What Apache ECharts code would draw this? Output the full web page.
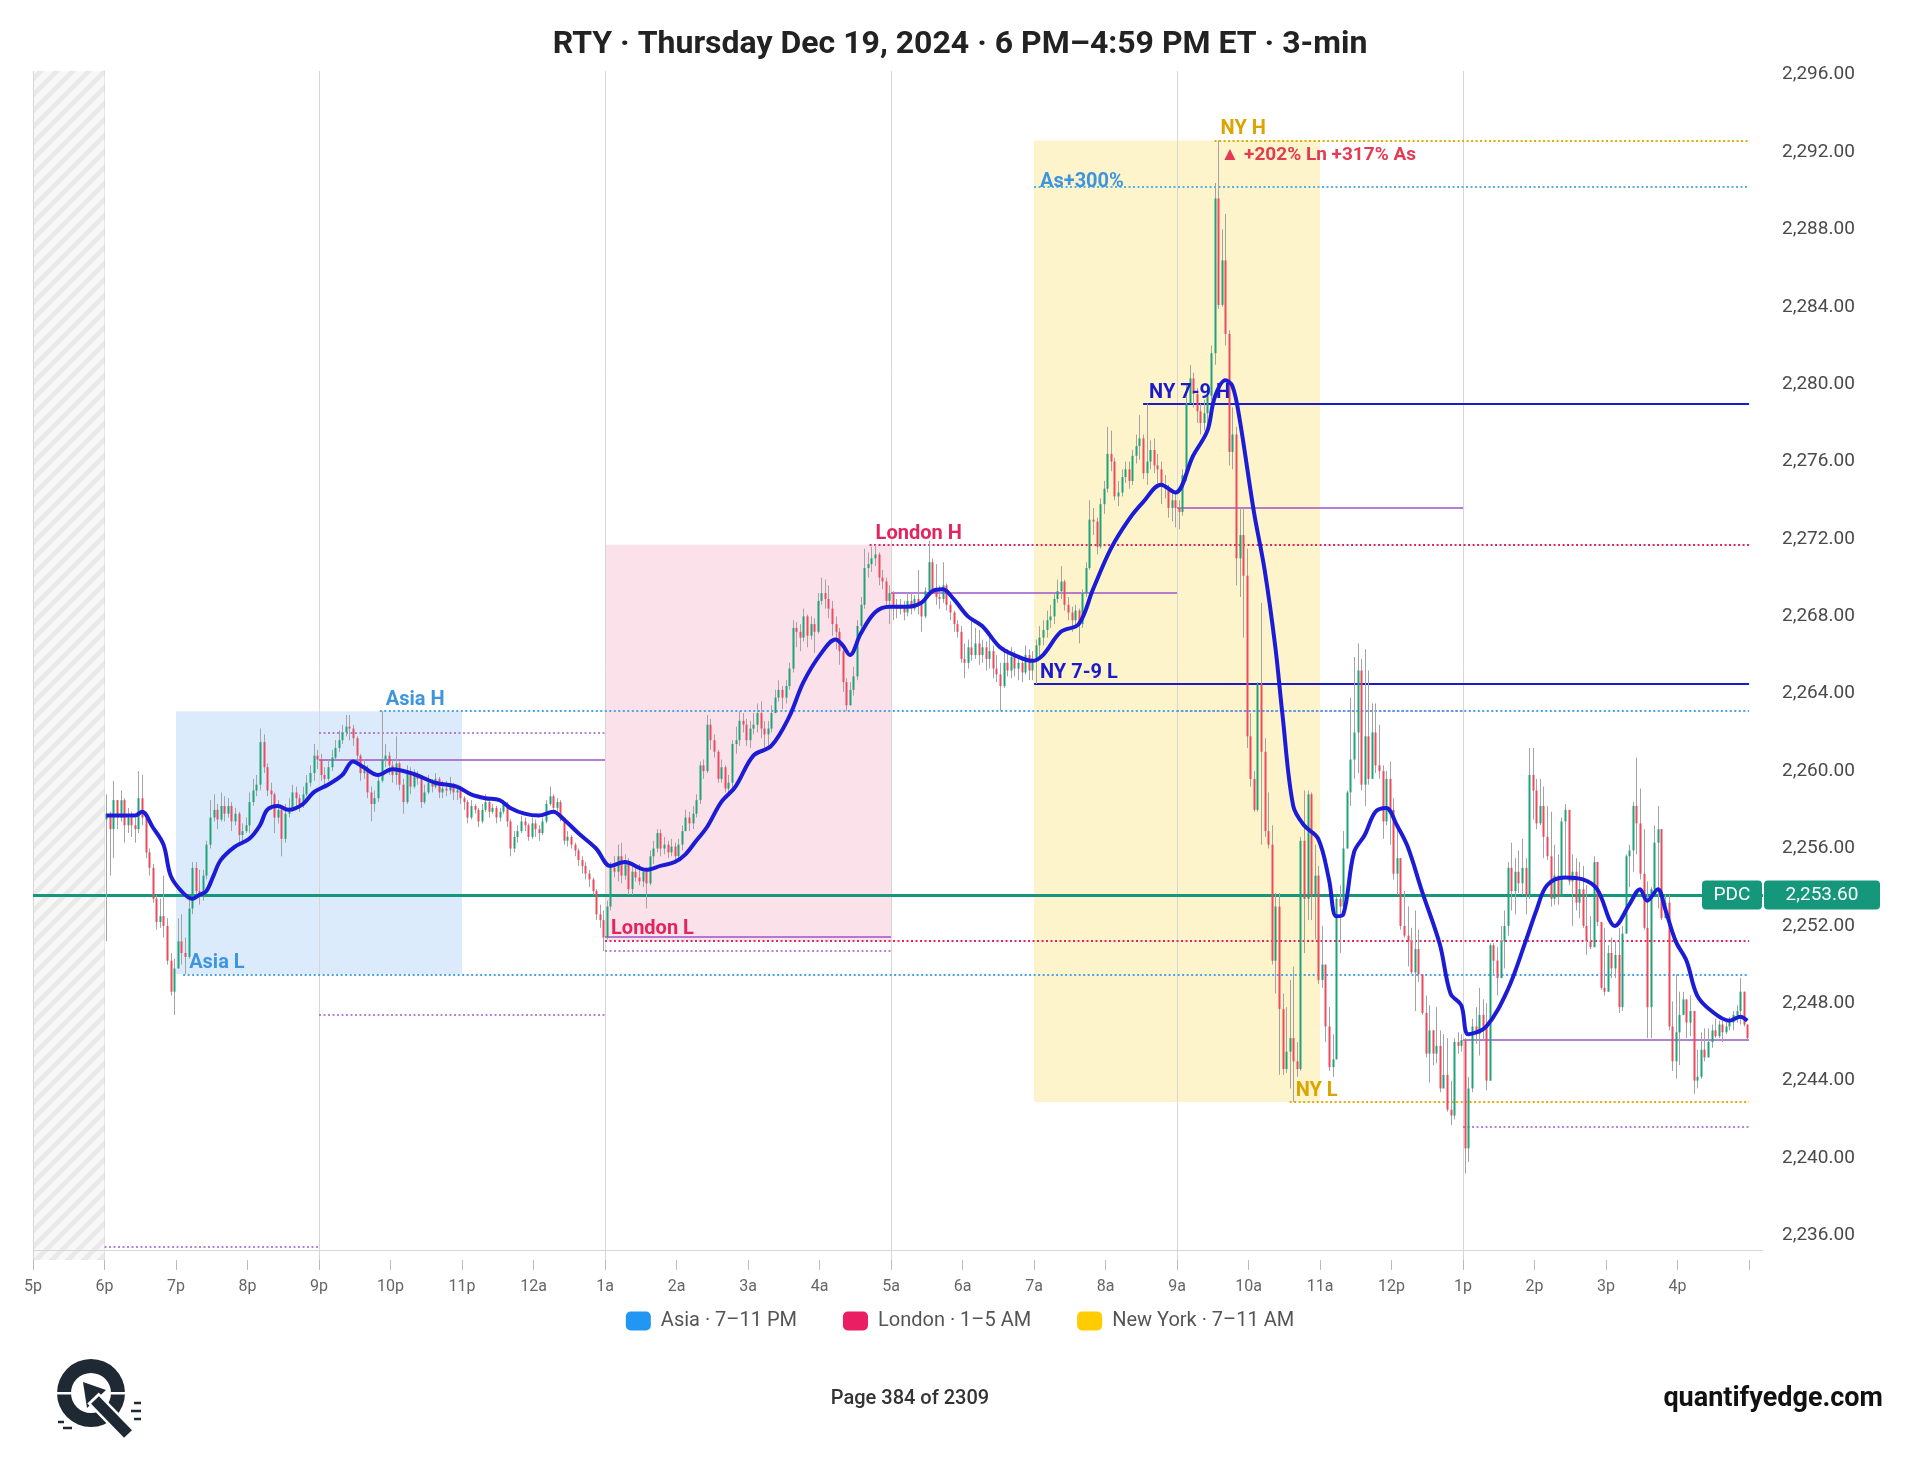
<!DOCTYPE html>
<html>
<head>
<meta charset="utf-8">
<script src="https://cdn.jsdelivr.net/npm/echarts@6/dist/echarts.min.js"></script>
<style>
  html, body { margin: 0; padding: 0; background: #fff; }
  #chart { width: 1920px; height: 1484px; }
</style>
</head>
<body>
<div id="chart"></div>
<script>
// RTY 3-min bars, 6 PM -> 4:59 PM ET. bar 0 = 6:00p, one row per hour (20 bars)
var firstOpen = 2257.5;
var closes = [
  2257.8,2257.0,2258.5,2257.6,2258.5,2257.2,2257.6,2257.2,2257.0,2258.6,2257.6,2255.8,2255.0,2253.4,2252.2,2252.5,2252.0,2250.2,2248.6,2249.8,
  2251.2,2250.6,2250.4,2252.9,2255.0,2253.8,2253.5,2254.6,2256.2,2257.6,2258.0,2257.5,2258.2,2257.8,2258.2,2257.4,2257.8,2256.7,2256.9,2257.2,
  2258.4,2259.0,2259.3,2261.5,2260.2,2259.0,2258.8,2257.6,2258.0,2256.5,2257.8,2258.0,2258.9,2258.6,2258.3,2258.8,2259.4,2259.9,2260.8,2260.6,
  2259.8,2259.6,2260.2,2260.7,2261.2,2261.6,2262.0,2262.3,2262.2,2261.7,2260.8,2259.9,2260.1,2258.9,2258.3,2258.6,2259.5,2260.6,2260.8,2260.3,
  2259.8,2260.4,2259.3,2258.4,2260.0,2259.2,2259.8,2259.6,2258.4,2258.9,2259.4,2259.2,2259.6,2258.9,2259.1,2259.0,2259.3,2258.9,2259.0,2258.6,
  2258.4,2257.6,2258.2,2258.0,2257.4,2258.0,2258.4,2257.9,2258.1,2257.6,2257.9,2258.3,2257.4,2256.0,2256.6,2256.9,2257.4,2257.2,2256.6,2257.3,
  2257.0,2256.8,2257.4,2258.3,2258.7,2258.1,2258.4,2257.6,2256.4,2256.6,2256.2,2255.9,2255.4,2255.1,2254.7,2254.4,2253.8,2252.6,2252.3,2251.4,
  2253.0,2255.0,2254.8,2255.6,2254.6,2255.2,2253.9,2254.8,2254.5,2254.3,2254.8,2254.2,2255.6,2256.0,2256.8,2256.0,2256.2,2255.8,2256.1,2255.6,
  2256.2,2256.9,2257.6,2257.3,2257.8,2258.5,2260.3,2260.0,2262.4,2261.6,2261.0,2259.6,2260.2,2259.1,2259.4,2261.4,2261.6,2262.6,2262.4,2261.6,
  2262.2,2262.4,2263.0,2262.2,2261.9,2262.2,2263.0,2263.8,2264.2,2263.8,2264.4,2265.3,2267.4,2267.2,2266.9,2268.0,2267.0,2267.6,2267.2,2268.8,
  2269.2,2268.9,2268.4,2267.6,2267.2,2266.2,2264.6,2263.4,2264.2,2264.9,2267.5,2268.6,2270.5,2270.7,2271.0,2271.2,2270.0,2269.8,2268.8,2269.2,
  2268.6,2268.4,2268.5,2268.2,2268.8,2268.4,2268.9,2268.6,2268.0,2269.3,2270.8,2269.4,2269.0,2268.9,2269.6,2268.6,2268.2,2267.6,2267.2,2265.8,
  2265.6,2266.4,2266.0,2266.6,2266.0,2266.4,2265.8,2266.2,2265.3,2265.0,2264.4,2265.6,2265.2,2265.9,2265.3,2265.6,2265.1,2266.0,2265.2,2265.8,
  2266.5,2266.9,2267.3,2267.8,2268.0,2268.9,2269.3,2269.8,2268.6,2268.2,2267.8,2268.3,2267.6,2269.2,2270.5,2273.0,2272.9,2271.6,2273.8,2274.6,
  2276.4,2276.0,2274.2,2274.4,2275.2,2275.6,2275.0,2276.3,2276.8,2277.2,2275.4,2276.0,2276.6,2275.8,2275.6,2274.8,2274.6,2273.6,2274.0,2273.6,
  2273.4,2275.3,2279.0,2280.3,2279.5,2278.6,2278.0,2278.5,2279.4,2281.6,2289.6,2284.1,2286.4,2282.6,2276.5,2277.4,2271.0,2272.2,2270.1,2261.8,
  2259.6,2258.0,2264.5,2261.0,2256.9,2256.2,2250.2,2253.0,2247.7,2244.6,2245.5,2246.2,2245.0,2244.6,2256.4,2253.4,2258.8,2253.5,2254.6,2249.2,
  2250.0,2246.8,2244.7,2245.1,2253.4,2253.0,2256.0,2258.9,2260.6,2262.0,2265.2,2259.3,2261.8,2259.6,2262.0,2260.3,2260.0,2257.4,2259.6,2258.0,
  2254.7,2255.5,2252.0,2251.5,2251.2,2249.6,2250.8,2249.5,2247.5,2245.4,2246.6,2245.4,2245.8,2243.6,2244.3,2242.5,2242.2,2246.0,2245.8,2246.1,
  2240.5,2243.6,2246.8,2246.4,2247.4,2246.8,2244.0,2251.0,2250.2,2249.3,2251.2,2252.0,2255.0,2253.8,2254.8,2254.2,2255.0,2253.6,2259.8,2259.0,
  2257.3,2258.2,2256.6,2255.6,2253.4,2254.6,2253.5,2257.4,2258.0,2254.3,2254.8,2253.2,2253.9,2252.0,2251.2,2250.9,2255.3,2252.2,2248.8,2248.6,
  2250.6,2249.8,2250.5,2247.8,2251.6,2255.6,2255.9,2258.2,2257.3,2254.7,2251.9,2247.8,2253.9,2256.3,2257.0,2252.4,2253.2,2246.8,2245.0,2246.5,
  2247.4,2248.2,2247.0,2247.6,2244.0,2244.2,2245.6,2245.2,2246.0,2246.6,2246.3,2246.9,2246.5,2246.8,2247.0,2247.4,2247.6,2248.6,2246.9,2246.2
];
var highs = [
  2258.8,2257.9,2259.5,2258.4,2259.0,2258.6,2258.1,2257.9,2257.6,2260.0,2259.8,2257.8,2256.0,2255.2,2253.6,2253.4,2254.6,2252.4,2250.6,2250.3,
  2252.4,2252.6,2251.4,2253.4,2255.3,2255.3,2254.9,2254.9,2256.4,2258.5,2258.8,2258.3,2258.9,2258.7,2258.6,2258.4,2258.1,2257.9,2257.3,2257.6,
  2258.9,2259.6,2259.8,2262.2,2261.9,2260.4,2259.4,2258.9,2258.5,2258.2,2258.3,2258.6,2259.3,2259.2,2258.8,2259.2,2259.8,2260.3,2261.4,2261.1,
  2260.9,2260.2,2260.6,2261.1,2261.6,2262.1,2262.4,2262.9,2262.9,2262.4,2261.8,2260.9,2260.6,2260.3,2259.2,2259.0,2259.9,2263.1,2261.4,2261.0,
  2260.6,2261.8,2260.5,2259.6,2260.3,2260.2,2260.1,2260.0,2259.7,2259.3,2259.8,2259.6,2259.9,2259.7,2259.5,2259.5,2259.7,2259.4,2259.3,2259.2,
  2258.7,2258.5,2258.5,2258.3,2258.1,2258.3,2258.8,2258.5,2258.3,2258.2,2258.1,2258.5,2258.4,2257.5,2256.9,2257.2,2257.7,2257.6,2257.3,2257.6,
  2257.5,2257.2,2257.6,2258.5,2259.2,2258.8,2258.6,2258.5,2257.5,2256.9,2256.7,2256.3,2256.0,2255.6,2255.3,2254.9,2254.5,2253.9,2253.1,2252.8,
  2253.3,2255.3,2255.6,2256.2,2256.3,2255.7,2255.5,2255.1,2255.0,2255.2,2255.0,2255.0,2255.9,2256.4,2257.0,2257.0,2256.6,2256.4,2256.5,2256.3,
  2256.5,2257.2,2258.0,2257.9,2258.2,2258.8,2260.5,2260.6,2262.9,2262.7,2261.9,2261.1,2260.6,2260.3,2259.8,2261.6,2262.3,2263.1,2263.0,2262.7,
  2262.6,2263.0,2263.5,2263.6,2262.6,2262.6,2263.4,2264.2,2264.7,2264.4,2264.7,2265.6,2267.8,2267.7,2267.6,2268.4,2268.1,2268.0,2267.9,2269.2,
  2270.0,2269.9,2269.6,2268.8,2268.0,2267.4,2266.3,2264.8,2264.6,2265.4,2267.8,2269.0,2271.5,2271.3,2271.6,2271.7,2271.3,2270.4,2270.0,2269.6,
  2269.3,2268.9,2268.9,2268.8,2269.2,2269.2,2269.1,2270.4,2268.8,2269.5,2271.9,2271.0,2270.7,2269.6,2270.8,2269.7,2268.8,2268.3,2267.8,2267.5,
  2266.6,2266.8,2267.8,2267.4,2267.3,2266.8,2266.7,2266.9,2266.5,2266.0,2265.6,2266.4,2266.3,2266.4,2266.2,2266.0,2265.9,2266.5,2266.3,2266.2,
  2266.8,2267.5,2267.8,2268.3,2268.6,2269.2,2269.9,2270.6,2269.9,2269.0,2268.5,2268.6,2268.4,2269.4,2270.8,2274.0,2273.6,2273.1,2274.1,2275.0,
  2277.8,2277.6,2276.2,2275.0,2275.6,2276.0,2276.0,2276.6,2277.4,2278.4,2277.4,2279.0,2277.1,2277.2,2276.4,2276.0,2275.3,2274.8,2274.5,2274.4,
  2274.0,2275.6,2280.0,2281.0,2280.6,2279.8,2279.0,2279.2,2280.0,2282.0,2290.4,2292.6,2288.0,2288.8,2282.8,2278.8,2277.8,2273.6,2273.6,2271.5,
  2263.0,2260.0,2264.6,2268.7,2261.7,2258.9,2257.2,2253.7,2253.7,2248.5,2247.8,2249.2,2249.9,2246.0,2256.6,2259.0,2259.0,2258.9,2256.2,2255.1,
  2252.0,2249.9,2247.8,2246.4,2253.5,2254.1,2256.9,2259.0,2263.8,2265.9,2266.6,2265.8,2266.3,2265.2,2263.5,2263.5,2262.4,2260.3,2260.0,2260.5,
  2258.6,2257.3,2255.5,2253.8,2253.0,2251.9,2252.8,2251.8,2249.5,2248.4,2247.9,2246.0,2247.8,2246.6,2246.4,2246.2,2244.0,2246.2,2246.5,2246.4,
  2246.2,2244.2,2247.2,2247.8,2248.8,2248.2,2248.0,2251.1,2251.1,2250.9,2252.0,2252.8,2255.3,2256.3,2255.5,2255.9,2256.5,2255.5,2261.2,2261.2,
  2259.6,2259.6,2259.2,2258.2,2257.9,2256.2,2255.7,2257.6,2258.3,2257.7,2255.7,2255.5,2255.3,2255.1,2254.1,2252.5,2255.6,2254.6,2252.2,2251.9,
  2251.0,2251.4,2251.2,2251.9,2252.0,2255.7,2256.2,2258.4,2260.7,2259.1,2257.0,2254.3,2254.0,2257.2,2258.2,2256.9,2253.6,2253.6,2248.1,2249.5,
  2248.6,2248.6,2247.9,2248.4,2246.9,2245.6,2246.5,2246.7,2246.7,2246.9,2247.2,2247.1,2247.1,2247.1,2247.3,2247.6,2247.9,2249.3,2248.3,2246.9
];
var lows = [
  2251.2,2254.6,2255.5,2257.0,2257.4,2256.3,2256.8,2256.6,2256.3,2256.8,2257.2,2255.5,2254.6,2253.2,2251.8,2251.9,2251.4,2250.0,2248.4,2247.4,
  2250.3,2250.0,2249.5,2250.3,2252.6,2253.4,2253.1,2253.3,2254.4,2256.0,2257.4,2257.0,2257.4,2257.4,2257.6,2256.9,2257.2,2256.1,2256.3,2256.8,
  2256.8,2258.2,2258.7,2259.0,2259.9,2258.7,2258.0,2256.8,2257.3,2255.6,2256.3,2257.6,2257.9,2258.2,2257.9,2258.1,2258.7,2259.2,2259.5,2260.1,
  2259.5,2259.2,2259.5,2260.0,2260.6,2261.0,2261.4,2261.8,2261.6,2261.3,2260.6,2259.5,2259.6,2258.6,2257.4,2257.9,2258.4,2259.4,2260.2,2259.8,
  2259.4,2259.3,2259.0,2257.8,2258.3,2258.8,2259.1,2259.3,2258.1,2258.3,2258.8,2258.9,2259.1,2258.6,2258.6,2258.7,2258.8,2258.5,2258.5,2258.3,
  2258.0,2257.3,2257.5,2257.8,2257.1,2257.3,2257.9,2257.6,2257.8,2257.3,2257.4,2257.8,2257.1,2255.6,2255.8,2256.3,2256.8,2256.9,2256.4,2256.5,
  2256.6,2256.4,2256.7,2257.3,2258.2,2257.9,2257.9,2257.4,2256.2,2256.1,2256.0,2255.6,2255.1,2254.7,2254.4,2254.0,2253.6,2252.3,2251.9,2250.7,
  2251.3,2252.8,2254.5,2254.3,2254.2,2254.4,2253.6,2253.6,2254.3,2254.1,2254.0,2252.9,2254.1,2255.2,2255.8,2255.6,2255.7,2255.5,2255.6,2255.2,
  2255.4,2255.9,2256.9,2256.9,2257.0,2257.6,2258.3,2259.6,2259.9,2261.1,2260.7,2259.4,2259.4,2258.9,2258.9,2259.1,2260.9,2261.3,2262.0,2261.3,
  2261.2,2261.9,2262.0,2261.7,2261.0,2261.3,2262.0,2263.0,2263.6,2263.2,2263.5,2264.2,2265.1,2266.4,2266.2,2266.7,2266.4,2266.8,2266.1,2267.1,
  2268.6,2268.4,2267.9,2267.0,2266.3,2265.5,2264.1,2263.1,2263.6,2263.9,2264.7,2267.3,2268.4,2270.0,2270.3,2270.6,2269.6,2269.4,2268.4,2267.6,
  2267.8,2267.9,2268.1,2267.8,2268.0,2268.1,2268.3,2268.1,2267.2,2267.9,2269.1,2269.2,2268.6,2268.4,2268.7,2268.3,2267.8,2267.2,2266.9,2265.6,
  2264.8,2265.3,2265.7,2265.8,2265.5,2265.6,2265.2,2265.3,2264.8,2264.6,2263.1,2264.3,2264.9,2264.8,2264.9,2264.7,2264.6,2265.0,2264.7,2264.7,
  2264.5,2265.9,2266.5,2266.9,2267.4,2267.6,2268.7,2268.9,2268.3,2267.8,2267.2,2267.4,2266.6,2267.4,2269.0,2270.4,2272.2,2271.2,2271.5,2273.3,
  2274.4,2275.5,2274.0,2273.7,2274.2,2274.9,2274.6,2274.8,2275.9,2276.1,2275.1,2274.8,2275.6,2275.4,2274.9,2273.8,2274.1,2273.1,2272.9,2272.6,
  2272.5,2273.2,2275.0,2279.0,2278.8,2278.0,2277.4,2277.6,2277.8,2279.2,2281.0,2283.9,2284.0,2282.0,2275.8,2275.6,2269.6,2269.0,2266.9,2261.2,
  2259.2,2257.9,2257.9,2256.2,2256.6,2256.0,2250.0,2248.5,2244.3,2244.3,2244.4,2243.6,2242.9,2244.2,2244.5,2250.6,2252.3,2252.3,2251.3,2249.0,
  2248.8,2246.0,2244.5,2244.2,2245.3,2250.6,2253.4,2256.0,2258.2,2259.6,2259.9,2259.0,2258.2,2259.3,2260.0,2259.9,2259.6,2256.5,2257.2,2256.2,
  2254.4,2253.6,2251.8,2251.4,2249.9,2249.5,2247.6,2249.1,2247.4,2245.2,2243.9,2244.8,2244.9,2243.4,2243.9,2242.4,2241.7,2242.0,2245.4,2245.5,
  2239.2,2239.8,2243.4,2245.9,2245.3,2246.1,2243.5,2245.3,2249.5,2248.4,2249.8,2249.8,2251.5,2252.8,2252.6,2253.7,2253.6,2252.6,2253.4,2257.5,
  2257.0,2257.2,2255.5,2255.4,2253.0,2253.1,2253.1,2253.9,2254.5,2254.1,2252.0,2252.8,2252.4,2251.9,2250.5,2250.8,2250.9,2252.0,2248.7,2248.4,
  2248.9,2249.3,2249.3,2247.5,2247.6,2251.6,2254.0,2254.8,2255.7,2254.4,2251.8,2246.2,2246.2,2253.8,2252.9,2252.3,2252.5,2246.6,2244.5,2244.1,
  2244.8,2247.4,2246.2,2246.3,2243.3,2243.6,2244.1,2245.0,2245.4,2245.7,2246.2,2246.2,2246.0,2246.4,2246.6,2246.6,2247.0,2246.9,2246.8,2246.1
];

// moving-average line: [bar, value]
var maKnots = [
  [0,2257.7],[8,2257.7],[10,2257.9],[13,2257.1],[16,2256.2],[18,2254.6],[21,2253.8],[24,2253.4],[26,2253.6],[28,2253.8],
  [30,2254.6],[32,2255.4],[36,2256.1],[40,2256.5],[43,2257.2],[45,2258.0],[48,2258.2],[51,2258.0],[55,2258.3],[58,2258.9],
  [62,2259.3],[66,2259.8],[69,2260.5],[72,2260.2],[76,2259.8],[80,2260.1],[86,2259.85],[92,2259.4],[98,2259.2],[102,2258.8],
  [106,2258.6],[110,2258.5],[113,2258.1],[117,2257.8],[121,2257.7],[125,2257.9],[128,2257.5],[132,2256.8],[137,2256.0],[141,2255.1],
  [145,2255.3],[151,2254.9],[155,2255.1],[159,2255.3],[162,2255.7],[165,2256.4],[168,2257.1],[172,2258.4],[176,2259.2],[181,2260.8],
  [186,2261.3],[191,2262.8],[195,2264.6],[200,2266.1],[204,2266.8],[206,2266.5],[208,2266.0],[211,2267.1],[215,2268.2],[219,2268.5],
  [224,2268.5],[228,2268.7],[231,2269.3],[234,2269.4],[237,2268.9],[241,2268.0],[245,2267.5],[250,2266.4],[254,2266.0],[259,2265.7],
  [262,2266.0],[267,2267.2],[272,2267.6],[276,2269.4],[281,2271.5],[286,2273.0],[290,2273.9],[295,2274.8],[299,2274.4],[304,2276.3],
  [308,2277.6],[310,2279.3],[313,2280.2],[315,2279.9],[317,2278.2],[321,2273.4],[324,2270.4],[327,2266.4],[329,2262.9],[332,2258.2],
  [335,2257.2],[339,2256.5],[342,2254.4],[344,2252.5],[346,2252.6],[349,2255.8],[352,2256.7],[355,2257.9],[358,2258.1],[361,2257.2],
  [364,2256.1],[368,2253.8],[373,2251.05],[376,2248.5],[379,2247.9],[381,2246.4],[386,2246.8],[392,2248.7],[397,2251.2],[400,2252.8],
  [403,2254.1],[408,2254.5],[413,2254.4],[417,2253.9],[422,2252.0],[426,2253.1],[429,2253.9],[431,2253.3],[434,2253.9],[436,2252.9],
  [439,2251.2],[442,2250.2],[445,2248.4],[449,2247.6],[454,2247.1],[457,2247.3],[459,2247.1]
];

// session key levels: name, price, x where the line starts
var levelNames  = ['Asia H', 'Asia L', 'London H', 'London L', 'NY H', 'NY L', 'As+300%', 'NY 7-9 H', 'NY 7-9 L'];
var levelPrices = [2263.1, 2249.5, 2271.7, 2251.25, 2292.6, 2242.9, 2290.2, 2279.0, 2264.5];
var levelStart  = [77, 22, 214, 140, 310.5, 331.5, 260, 290.5, 260];
var pdcPrice = 2253.6;
var nyNote = '▲ +202% Ln +317% As';

// 4-hour block lines (purple): solid = block open, dotted = reference levels
var blockStart  = [0, 60, 140, 220, 300, 380];
var blockEnd    = [60, 140, 220, 300, 380, 460];
var blockOpen   = [null, 2260.6, 2251.45, 2269.2, 2273.6, 2246.1];
var blockDotted = [[2235.4], [2262.0, 2247.4], [2250.7], [], [2263.1], [2241.6]];

var sessionNames = ['Asia · 7–11 PM', 'London · 1–5 AM', 'New York · 7–11 AM'];
var sessionFrom  = [20, 140, 260];
var sessionTo    = [100, 220, 340];
var gridHours    = [60, 140, 220, 300, 380];
var yTicks = [];
for (var t = 2236; t <= 2296; t += 4) yTicks.push(t);

var yMin = 2234.73, yMax = 2296.19;
var lineEnd = 460;

var chart = echarts.init(document.getElementById('chart'));

// hatch for the pre-session hour
var hatch = document.createElement('canvas');
hatch.width = 16; hatch.height = 16;
var hc = hatch.getContext('2d');
hc.fillStyle = '#f8f8f8'; hc.fillRect(0, 0, 16, 16);
hc.strokeStyle = '#e9e9e9'; hc.lineWidth = 5;
hc.beginPath();
hc.moveTo(-4, 4); hc.lineTo(4, -4);
hc.moveTo(-4, 20); hc.lineTo(20, -4);
hc.moveTo(12, 20); hc.lineTo(20, 12);
hc.stroke();

var candleData = closes.map(function (c, i) {
  var o = i === 0 ? firstOpen : closes[i - 1];
  return [i + 0.5, o, c, lows[i], highs[i]];
});

var fmtPrice = function (v) {
  var s = v.toFixed(2).split('.');
  return s[0].replace(/\B(?=(\d{3})+(?!\d))/g, ',') + '.' + s[1];
};
var hourLabel = function (v) {
  if (v > 459) return '';
  var h = (18 + Math.round(v / 20) + 24) % 24;
  var h12 = h % 12 === 0 ? 12 : h % 12;
  return h12 + (h < 12 ? 'a' : 'p');
};

var FONT = 'Roboto, "Noto Sans", sans-serif';
var levelColor = ['#3d95e0', '#3d95e0', '#e2245f', '#e2245f', '#dca400', '#dca400', '#3d95e0', '#1b1bcc', '#1b1bcc'];
var lineColor  = ['#4aa3e8', '#4aa3e8', '#e2245f', '#e2245f', '#e3ab00', '#e3ab00', '#5aaee0', '#1b1bcc', '#1b1bcc'];

var levelLines = levelNames.map(function (n, k) {
  var solid = n.indexOf('7-9') >= 0;
  var lift = n === 'As+300%' ? -5 : 1;
  return [{
    coord: [levelStart[k], levelPrices[k]],
    lineStyle: { color: lineColor[k], width: 2, type: solid ? 'solid' : [2, 2.5] },
    label: { show: true, position: 'insideStartTop', formatter: n, color: levelColor[k],
      fontSize: 20, fontWeight: 'bold', fontFamily: FONT, distance: [6, lift] }
  }, { coord: [lineEnd, levelPrices[k]] }];
});
// note under the NY high
levelLines.push([{
  coord: [levelStart[4], levelPrices[4]],
  lineStyle: { color: 'rgba(0,0,0,0)', width: 1 },
  label: { show: true, position: 'insideStartBottom', formatter: nyNote, color: '#e23b52',
    fontSize: 19, fontWeight: 'bold', fontFamily: FONT, distance: [6, 5] }
}, { coord: [lineEnd, levelPrices[4]] }]);
// previous day close
levelLines.push([{ coord: [-20, pdcPrice], lineStyle: { color: '#14977a', width: 3, type: 'solid' } },
                 { coord: [463.9, pdcPrice] }]);

var purpleLines = [];
blockStart.forEach(function (s, k) {
  if (blockOpen[k] !== null) {
    purpleLines.push([{ coord: [s, blockOpen[k]], lineStyle: { color: '#9c55c8', width: 1.5, type: 'solid' } },
                      { coord: [blockEnd[k], blockOpen[k]] }]);
  }
  blockDotted[k].forEach(function (p) {
    purpleLines.push([{ coord: [s, p], lineStyle: { color: '#a05ccc', width: 1.6, type: [2, 2.5] } },
                      { coord: [blockEnd[k], p] }]);
  });
});

var sessionFill = ['#dcebfb', '#fbe2ea', '#fdf4cc'];
var sessionLow  = [levelPrices[1], levelPrices[3], levelPrices[5]];
var sessionHigh = [levelPrices[0], levelPrices[2], levelPrices[4]];
var areas = [[{ coord: [-20, yMin], itemStyle: { color: { image: hatch, repeat: 'repeat' } } }, { coord: [0, yMax] }]];
sessionNames.forEach(function (n, k) {
  areas.push([{ coord: [sessionFrom[k], sessionLow[k]], itemStyle: { color: sessionFill[k] } },
              { coord: [sessionTo[k], sessionHigh[k]] }]);
});

var vLines = gridHours.map(function (x) { return { xAxis: x }; });
vLines.push({ xAxis: -20 });

var option = {
  animation: false,
  backgroundColor: '#ffffff',
  title: {
    text: 'RTY · Thursday Dec 19, 2024 · 6 PM–4:59 PM ET · 3-min',
    left: 'center', top: 29, padding: 0,
    textStyle: { fontSize: 32, fontWeight: 'bold', color: '#222', fontFamily: FONT }
  },
  legend: {
    data: sessionNames, top: 1311, left: 'center', padding: 0,
    icon: 'roundRect', itemWidth: 25, itemHeight: 19, itemGap: 46,
    textStyle: { fontSize: 20, color: '#555', fontFamily: FONT, padding: [0, 0, 0, 5] },
    selectedMode: false
  },
  grid: { left: 33, top: 71, width: 1730, height: 1189 },
  xAxis: {
    type: 'value', min: -20, max: 463.9, interval: 20,
    axisLine: { show: false },
    axisTick: { show: true, length: 10, lineStyle: { color: '#bdbdbd' } },
    axisLabel: { formatter: hourLabel, color: '#666', fontSize: 16, margin: 19, fontFamily: FONT,
      showMaxLabel: false },
    splitLine: { show: false }
  },
  yAxis: {
    type: 'value', position: 'right', min: yMin, max: yMax, scale: true,
    axisLine: { show: true, lineStyle: { color: '#d4d4d4' } },
    axisTick: { show: false },
    axisLabel: { customValues: yTicks, formatter: fmtPrice, color: '#4a4a4a', fontSize: 19,
      margin: 19, fontFamily: FONT },
    splitLine: { show: false }
  },
  series: [
    { name: 'areas', type: 'line', data: [], z: 1, silent: true,
      markArea: { silent: true, data: areas } },
    { name: 'vgrid', type: 'line', data: [], z: 2, silent: true,
      markLine: { silent: true, symbol: ['none', 'none'], label: { show: false },
        lineStyle: { color: '#d6d6d6', width: 1, type: 'solid' },
        data: vLines.concat([[{ coord: [-20, 2235.25] }, { coord: [463.9, 2235.25] }]]) } },
    { name: 'purple', type: 'line', data: [], z: 3, silent: true,
      markLine: { silent: true, symbol: ['none', 'none'], label: { show: false }, data: purpleLines } },
    { name: 'levels', type: 'line', data: [], z: 4, silent: true,
      markLine: { silent: true, symbol: ['none', 'none'], label: { show: false }, data: levelLines } },
    {
      name: 'RTY', type: 'custom', z: 5, data: candleData,
      encode: { x: 0, y: [1, 2, 3, 4] },
      renderItem: function (params, api) {
        var x = api.value(0), o = api.value(1), c = api.value(2), l = api.value(3), h = api.value(4);
        var hi = Math.max(h, o, c), lo = Math.min(l, o, c);
        var pT = api.coord([x, hi]), pB = api.coord([x, lo]);
        var pO = api.coord([x, o]), pC = api.coord([x, c]);
        var cx = Math.round(pT[0]) + 0.5;
        var col = c > o ? '#1fa37a' : (c < o ? '#ec4b5f' : '#a6a6a6');
        var top = Math.min(pO[1], pC[1]);
        var hgt = Math.max(1, Math.abs(pO[1] - pC[1]));
        return {
          type: 'group',
          children: [
            { type: 'line', shape: { x1: cx, y1: pT[1], x2: cx, y2: pB[1] },
              style: { stroke: '#a3a3a3', lineWidth: 1 } },
            { type: 'rect', shape: { x: cx - 1, y: top, width: 2, height: hgt },
              style: { fill: col } }
          ]
        };
      }
    },
    {
      name: 'MA', type: 'line', z: 6, smooth: 0.35, symbol: 'none',
      data: maKnots.map(function (p) { return [p[0] + 0.5, p[1]]; }),
      lineStyle: { color: '#1c1cd6', width: 4 }
    },
    { name: sessionNames[0], type: 'line', data: [], itemStyle: { color: '#2196f3' } },
    { name: sessionNames[1], type: 'line', data: [], itemStyle: { color: '#e91e63' } },
    { name: sessionNames[2], type: 'line', data: [], itemStyle: { color: '#ffcc00' } }
  ]
};
chart.setOption(option);

// PDC tag at the right axis, placed from the axis scale
var pdcY = chart.convertToPixel({ xAxisIndex: 0, yAxisIndex: 0 }, [0, pdcPrice])[1];
var ink = '#1e2933';
chart.setOption({
  graphic: [
    { type: 'rect', shape: { x: 1702, y: pdcY - 14.5, width: 60, height: 29, r: 4 }, style: { fill: '#14977a' }, z: 100 },
    { type: 'rect', shape: { x: 1764, y: pdcY - 14.5, width: 116, height: 29, r: 4 }, style: { fill: '#14977a' }, z: 100 },
    { type: 'text', x: 1732, y: pdcY, z: 101, style: { text: 'PDC', fill: '#fff', font: '19px ' + FONT, align: 'center', verticalAlign: 'middle' } },
    { type: 'text', x: 1822, y: pdcY, z: 101, style: { text: fmtPrice(pdcPrice), fill: '#fff', font: '19px ' + FONT, align: 'center', verticalAlign: 'middle' } },
    // footer
    { type: 'text', x: 910, y: 1399, style: { text: 'Page 384 of 2309', fill: '#333', font: '500 20px ' + FONT, align: 'center', verticalAlign: 'middle' } },
    { type: 'text', x: 1883, y: 1399, style: { text: 'quantifyedge.com', fill: '#111', font: 'bold 27px ' + FONT, align: 'right', verticalAlign: 'middle' } },
    // logo
    { type: 'ring', shape: { cx: 91, cy: 1393, r: 34, r0: 20 }, style: { fill: ink } },
    { type: 'rect', shape: { x: 55, y: 1392, width: 19, height: 2.5 }, style: { fill: '#fff' } },
    { type: 'rect', shape: { x: 108, y: 1392, width: 19, height: 2.5 }, style: { fill: '#fff' } },
    { type: 'polygon', shape: { points: [[83, 1382], [106, 1390], [87, 1408]] }, style: { fill: ink } },
    { type: 'line', shape: { x1: 93, y1: 1398, x2: 129, y2: 1435 }, style: { stroke: '#fff', lineWidth: 16 } },
    { type: 'line', shape: { x1: 95, y1: 1400, x2: 128, y2: 1434 }, style: { stroke: ink, lineWidth: 11 } },
    { type: 'line', shape: { x1: 134, y1: 1403, x2: 141, y2: 1403 }, style: { stroke: ink, lineWidth: 2.5 } },
    { type: 'line', shape: { x1: 131, y1: 1411, x2: 141, y2: 1411 }, style: { stroke: ink, lineWidth: 2.5 } },
    { type: 'line', shape: { x1: 134, y1: 1419, x2: 141, y2: 1419 }, style: { stroke: ink, lineWidth: 2.5 } },
    { type: 'line', shape: { x1: 58, y1: 1422, x2: 64, y2: 1422 }, style: { stroke: ink, lineWidth: 2.5 } },
    { type: 'line', shape: { x1: 63, y1: 1428, x2: 72, y2: 1428 }, style: { stroke: ink, lineWidth: 2.5 } }
  ]
});
</script>
</body>
</html>
